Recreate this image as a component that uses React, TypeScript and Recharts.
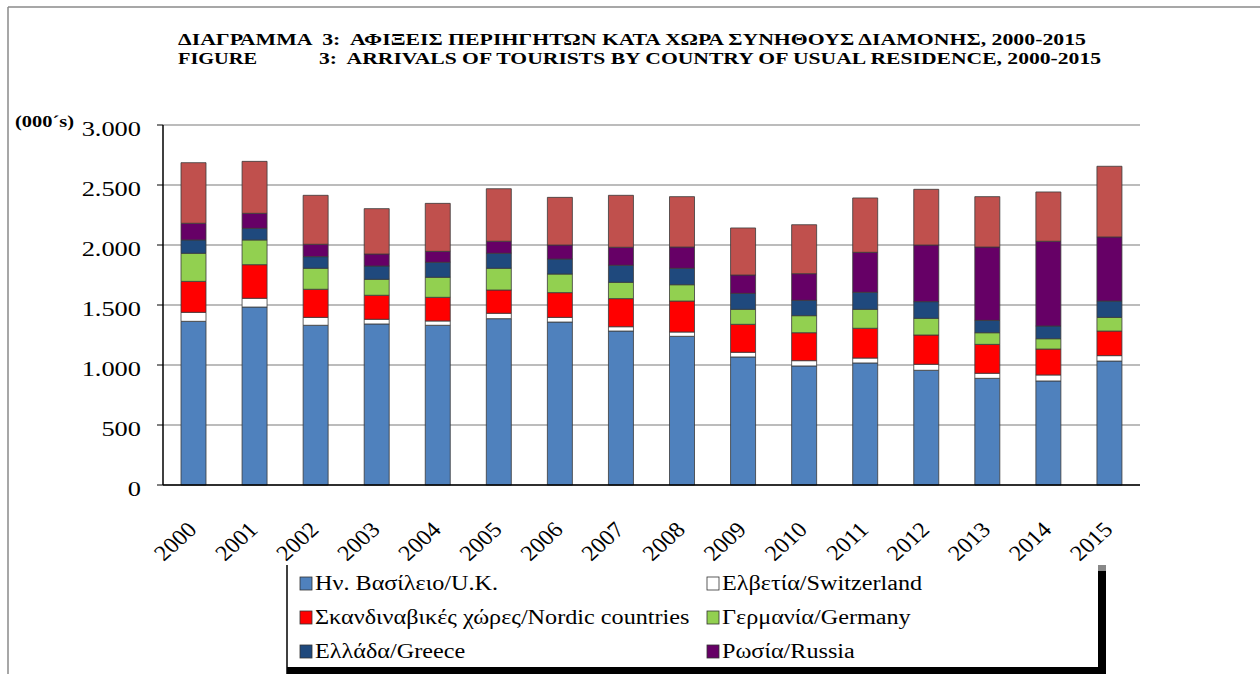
import React from 'react';
import { BarChart, Bar, XAxis, YAxis, CartesianGrid } from 'recharts';

const years = ['2000', '2001', '2002', '2003', '2004', '2005', '2006', '2007', '2008', '2009', '2010', '2011', '2012', '2013', '2014', '2015'];
const uk = [1364, 1483, 1331, 1342, 1331, 1386, 1358, 1283, 1239, 1067, 992, 1017, 956, 889, 867, 1033];
const switzerland = [75, 73, 66, 39, 36, 45, 39, 36, 36, 39, 44, 41, 50, 42, 50, 45];
const nordic = [258, 280, 234, 200, 197, 194, 206, 234, 258, 233, 233, 248, 244, 241, 216, 205];
const germany = [234, 206, 175, 133, 167, 181, 155, 136, 136, 125, 142, 158, 139, 97, 86, 114];
const greece = [111, 97, 97, 111, 125, 125, 125, 142, 137, 133, 128, 142, 139, 103, 106, 136];
const russia = [139, 125, 103, 100, 91, 100, 117, 150, 177, 153, 222, 333, 472, 611, 706, 534];
const other = [505, 433, 408, 378, 400, 438, 397, 433, 420, 392, 408, 453, 464, 420, 411, 589];
const yTicks = [0, 500, 1000, 1500, 2000, 2500, 3000];

const titleGr = 'ΔΙΑΓΡΑΜΜΑ  3:  ΑΦΙΞΕΙΣ ΠΕΡΙΗΓΗΤΩΝ ΚΑΤΑ ΧΩΡΑ ΣΥΝΗΘΟΥΣ ΔΙΑΜΟΝΗΣ, 2000-2015';
const titleEnA = 'FIGURE';
const titleEnB = '3:  ARRIVALS OF TOURISTS BY COUNTRY OF USUAL RESIDENCE, 2000-2015';
const unitLabel = '(000´s)';

const series = [
  { key: 'uk', name: 'Ην. Βασίλειο/U.K.', color: '#4F81BD', values: uk, legend: true },
  { key: 'switzerland', name: 'Ελβετία/Switzerland', color: '#FFFFFF', values: switzerland, legend: true },
  { key: 'nordic', name: 'Σκανδιναβικές χώρες/Nordic countries', color: '#FF0000', values: nordic, legend: true },
  { key: 'germany', name: 'Γερμανία/Germany', color: '#92D050', values: germany, legend: true },
  { key: 'greece', name: 'Ελλάδα/Greece', color: '#1F497D', values: greece, legend: true },
  { key: 'russia', name: 'Ρωσία/Russia', color: '#660066', values: russia, legend: true },
  { key: 'other', name: 'Λοιπές χώρες/Other countries', color: '#C0504D', values: other, legend: false },
];

const data = years.map((year, i) => {
  const row: Record<string, any> = { year };
  series.forEach((s) => { row[s.key] = s.values[i]; });
  return row;
});

const SERIF = "'Liberation Serif', Tinos, 'Noto Serif', 'DejaVu Serif', FreeSerif, 'Nimbus Roman', 'Times New Roman', Times, serif";
const serifStyle = { fontFamily: SERIF };
const SX = 1.2;

const fmt = (v: number) => String(v).replace(/\B(?=(\d{3})+(?!\d))/g, '.');

const YTick = (props: any) => {
  const { x, y, payload } = props;
  return (
    <text transform={`translate(${x} ${y + 11}) scale(${SX} 1)`} textAnchor="end" style={serifStyle} fontSize={22} fill="#000">
      {fmt(payload.value)}
    </text>
  );
};

const XTick = (props: any) => {
  const { x, y, payload } = props;
  return (
    <text transform={`translate(${x + 4.5} ${y + 46}) scale(1.1 1) rotate(-45)`} textAnchor="end" style={serifStyle} fontSize={22} fill="#000">
      {payload.value}
    </text>
  );
};

const legendItems = series.filter((s) => s.legend);

export default function App() {
  return (
    <div style={{ position: 'absolute', left: 0, top: 0, width: 1260, height: 674, background: '#fff', overflow: 'hidden', fontFamily: SERIF }}>
      <div style={{ position: 'absolute', left: 0, top: 0 }}>
        <BarChart width={1260} height={674} data={data} margin={{ top: 125, right: 120, bottom: 159, left: 0 }}>
          <CartesianGrid vertical={false} stroke="#7a7a7a" strokeWidth={1.2} />
          <XAxis dataKey="year" height={30} tickSize={0} tickMargin={0} tickLine={false} axisLine={{ stroke: '#000', strokeWidth: 1.5 }} tick={<XTick />} interval={0} />
          <XAxis xAxisId="top" dataKey="year" orientation="top" height={0} tick={false} tickLine={false} axisLine={{ stroke: '#000', strokeWidth: 1.5 }} />
          <YAxis width={163} domain={[0, 3000]} ticks={yTicks} tickSize={6} tickMargin={16} tickLine={{ stroke: '#000' }} axisLine={{ stroke: '#000', strokeWidth: 1.5 }} tick={<YTick />} interval={0} />
          <YAxis yAxisId="right" orientation="right" width={0} domain={[0, 3000]} tick={false} tickLine={false} axisLine={{ stroke: '#9a9a9a', strokeWidth: 1.5 }} />
          {series.map((s) => (
            <Bar key={s.key} dataKey={s.key} name={s.name} stackId="a" fill={s.color} stroke="#3a3a3a" strokeWidth={0.8} barSize={25} isAnimationActive={false} />
          ))}
        </BarChart>
      </div>
      <svg width={1260} height={674} style={{ position: 'absolute', left: 0, top: 0, pointerEvents: 'none', fontFamily: SERIF }}>
        <line x1={8} y1={7} x2={1260} y2={7} stroke="#8a8a8a" strokeWidth={1.5} />
        <line x1={8} y1={7} x2={8} y2={674} stroke="#8a8a8a" strokeWidth={1.5} />
        <text x={178} y={44.5} style={{ ...serifStyle, whiteSpace: 'pre' }} fontWeight="bold" fontSize={17.5} fill="#000" textLength={908} lengthAdjust="spacingAndGlyphs">{titleGr}</text>
        <text x={178} y={64} style={serifStyle} fontWeight="bold" fontSize={17.5} fill="#000" textLength={79} lengthAdjust="spacingAndGlyphs">{titleEnA}</text>
        <text x={319} y={64} style={{ ...serifStyle, whiteSpace: 'pre' }} fontWeight="bold" fontSize={17.5} fill="#000" textLength={782} lengthAdjust="spacingAndGlyphs">{titleEnB}</text>
        <text x={15} y={127} style={serifStyle} fontWeight="bold" fontSize={17} fill="#000" textLength={59} lengthAdjust="spacingAndGlyphs">{unitLabel}</text>
        <rect x={288} y={565} width={811} height={102} fill="#fff" />
        <line x1={287} y1={565} x2={287} y2={674} stroke="#000" strokeWidth={1.5} />
        <rect x={1098} y={565} width={8} height={6} fill="#888" />
        <rect x={1098} y={571} width={8} height={103} fill="#000" />
        <rect x={287} y={667} width={819} height={7} fill="#000" />
        {legendItems.map((s, i) => {
          const col = i % 2;
          const row = Math.floor(i / 2);
          const x = col === 0 ? 300 : 707;
          const by = 590 + row * 34;
          return (
            <g key={s.key}>
              <rect x={x} y={by - 13} width={12} height={13} fill={s.color} stroke="#333" strokeWidth={0.8} />
              <text transform={`translate(${x + 15} ${by}) scale(1.21 1)`} style={serifStyle} fontSize={20} fill="#000">{s.name}</text>
            </g>
          );
        })}
      </svg>
    </div>
  );
}
